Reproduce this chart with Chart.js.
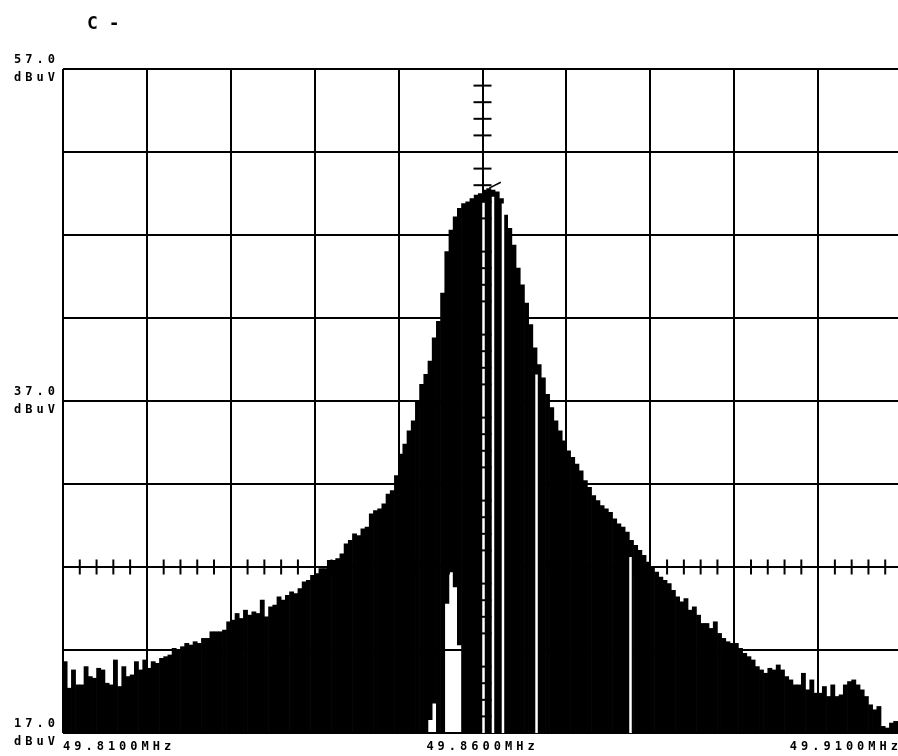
<!DOCTYPE html>
<html>
<head>
<meta charset="utf-8">
<script src="https://cdn.jsdelivr.net/npm/chart.js@4.4.1/dist/chart.umd.min.js"></script>
<style>
html,body{margin:0;padding:0;background:#fff;overflow:hidden;width:898px;height:756px}
canvas{display:block}
</style>
</head>
<body>
<canvas id="c" width="902" height="756"></canvas>
<script>
// ---------- data ----------
const titleText = 'C -';
const xMin = 49.81, xMax = 49.91;          // MHz
const yMin = 17, yMax = 57;                // dBuV
const xTickLabels = [49.81, 49.86, 49.91];
const yTickLabels = [57, 37, 17];
const yUnit = 'dBuV';
const xUnit = 'MHz';

// sweep bins: first bin centre and bin width (MHz)
const freqStart = 49.81025;
const freqStep = 0.0005;

// upper edge of the trace in each bin (dBuV)
const traceHigh = [
  21.3, 19.7, 20.8, 19.9, 19.9, 21.0, 20.4, 20.3, 20.9, 20.8,
  20.0, 19.9, 21.4, 19.8, 21.0, 20.4, 20.5, 21.3, 20.8, 21.4,
  20.9, 21.3, 21.2, 21.5, 21.6, 21.7, 22.1, 22.0, 22.2, 22.4,
  22.3, 22.5, 22.4, 22.7, 22.7, 23.1, 23.1, 23.1, 23.2, 23.7,
  23.8, 24.2, 23.9, 24.4, 24.1, 24.3, 24.2, 25.0, 24.0, 24.6,
  24.7, 25.2, 25.0, 25.3, 25.5, 25.4, 25.7, 26.1, 26.2, 26.5,
  26.6, 26.9, 26.9, 27.4, 27.4, 27.5, 27.8, 28.4, 28.6, 29.0,
  28.9, 29.3, 29.4, 30.2, 30.4, 30.5, 30.8, 31.4, 31.6, 32.5,
  33.8, 34.4, 35.2, 35.8, 37.0, 38.0, 38.6, 39.4, 40.8, 41.8,
  43.5, 46.0, 47.3, 48.1, 48.6, 48.9, 49.0, 49.2, 49.4, 49.5,
  49.7, 49.8, 49.7, 49.6, 49.2, 48.2, 47.4, 46.4, 45.0, 44.0,
  42.9, 41.6, 40.2, 39.2, 38.4, 37.4, 36.6, 35.8, 35.2, 34.6,
  34.0, 33.6, 33.2, 32.8, 32.2, 31.8, 31.3, 31.0, 30.7, 30.5,
  30.3, 29.9, 29.6, 29.4, 29.1, 28.6, 28.3, 28.0, 27.7, 27.3,
  27.0, 26.7, 26.4, 26.2, 26.0, 25.6, 25.2, 24.9, 25.1, 24.4,
  24.6, 24.1, 23.6, 23.6, 23.3, 23.7, 23.0, 22.7, 22.5, 22.4,
  22.4, 22.1, 21.8, 21.6, 21.4, 21.0, 20.8, 20.6, 20.9, 20.8,
  21.1, 20.8, 20.4, 20.2, 19.9, 19.9, 20.6, 19.6, 20.2, 19.4,
  19.4, 19.8, 19.2, 19.9, 19.2, 19.3, 19.9, 20.1, 20.2, 19.9,
  19.6, 19.2, 18.7, 18.4, 18.6, 17.4, 17.3, 17.6, 17.7, 17.6
];

// lower edge of the trace in each bin (dBuV)
const traceLow = [
  17, 17, 17, 17, 17, 17, 17, 17, 17, 17,
  17, 17, 17, 17, 17, 17, 17, 17, 17, 17,
  17, 17, 17, 17, 17, 17, 17, 17, 17, 17,
  17, 17, 17, 17, 17, 17, 17, 17, 17, 17,
  17, 17, 17, 17, 17, 17, 17, 17, 17, 17,
  17, 17, 17, 17, 17, 17, 17, 17, 17, 17,
  17, 17, 17, 17, 17, 17, 17, 17, 17, 17,
  17, 17, 17, 17, 17, 17, 17, 17, 17, 17,
  17, 17, 17, 17, 17, 17, 17, 17.8, 18.8, 17,
  17, 24.8, 26.7, 25.8, 22.3, 17, 17, 17, 17, 17,
  17, 17, 17, 17, 17, 17, 17, 17, 17, 17,
  17, 17, 17, 17, 17, 17, 17, 17, 17, 17,
  17, 17, 17, 17, 17, 17, 17, 17, 17, 17,
  17, 17, 17, 17, 17, 17, 17, 17, 17, 17,
  17, 17, 17, 17, 17, 17, 17, 17, 17, 17,
  17, 17, 17, 17, 17, 17, 17, 17, 17, 17,
  17, 17, 17, 17, 17, 17, 17, 17, 17, 17,
  17, 17, 17, 17, 17, 17, 17, 17, 17, 17,
  17, 17, 17, 17, 17, 17, 17, 17, 17, 17,
  17, 17, 17, 17, 17, 17, 17, 17, 17, 17
];

// narrow blank columns inside the trace (frequency, top of blank in dBuV)
const gapFreqs = [49.86012, 49.86125, 49.86244, 49.86644, 49.87764];
const gapTops  = [49.0, 49.3, 48.9, 38.6, 27.6];

// peak marker
const markerFreqs  = [49.86149];
const markerLevels = [50.0];

// graticule reference line and centre line
const refLevel = 27;
const centerFreq = 49.86;
const minorFreqStep = 0.002;
const minorLevelStep = 1;

// ---------- chart ----------
const monoFont = '"DejaVu Sans Mono", "Liberation Mono", monospace';

const plotterPlugin = {
  id: 'plotter',
  beforeDraw(chart) {
    chart.ctx.letterSpacing = '4px';
  },
  afterDatasetsDraw(chart) {
    const ctx = chart.ctx;
    const xs = chart.scales.x, ys = chart.scales.y;
    ctx.save();
    ctx.strokeStyle = '#000';
    ctx.lineCap = 'butt';
    // minor ticks on reference level line
    const yRef = ys.getPixelForValue(refLevel);
    ctx.lineWidth = 2;
    const nH = Math.round((xMax - xMin) / minorFreqStep);
    for (let i = 1; i < nH; i++) {
      if (i % 5 === 0) continue;
      const px = xs.getPixelForValue(xMin + i * minorFreqStep);
      ctx.beginPath();
      ctx.moveTo(px, yRef - 7.5);
      ctx.lineTo(px, yRef + 7.5);
      ctx.stroke();
    }
    // minor ticks on centre frequency line
    const xc = xs.getPixelForValue(centerFreq);
    ctx.lineWidth = 2;
    const nV = Math.round((yMax - yMin) / minorLevelStep);
    for (let j = 1; j < nV; j++) {
      if (j % 5 === 0) continue;
      const py = ys.getPixelForValue(yMin + j * minorLevelStep);
      ctx.beginPath();
      ctx.moveTo(xc - 9, py);
      ctx.lineTo(xc + 9, py);
      ctx.stroke();
    }
    ctx.restore();
  },
  afterDraw(chart) {
    const ctx = chart.ctx;
    ctx.save();
    ctx.letterSpacing = '0px';
    ctx.fillStyle = '#000';
    ctx.font = 'bold 18px ' + monoFont;
    ctx.textBaseline = 'alphabetic';
    ctx.textAlign = 'left';
    ctx.fillText(titleText, chart.chartArea.left + 24, 29);
    ctx.restore();
  }
};

const near = (a, b) => Math.abs(a - b) < 1e-6;

new Chart(document.getElementById('c'), {
  type: 'bar',
  data: {
    datasets: [
      {
        label: 'marker',
        type: 'scatter',
        data: markerFreqs.map((f, i) => ({ x: f, y: markerLevels[i] })),
        pointStyle: 'line',
        rotation: -27,
        radius: 6.5,
        borderColor: '#000',
        borderWidth: 1.5,
        order: 0
      },
      {
        label: 'gaps',
        data: gapFreqs.map((f, i) => ({ x: f, y: [yMin, gapTops[i]] })),
        xAxisID: 'xg',
        backgroundColor: '#fff',
        borderWidth: 0,
        barThickness: 2.5,
        inflateAmount: 0,
        grouped: false,
        order: 1
      },
      {
        label: 'trace',
        data: traceHigh.map((h, i) => ({ x: freqStart + i * freqStep, y: [traceLow[i], h] })),
        backgroundColor: '#000',
        borderWidth: 0,
        categoryPercentage: 1,
        barPercentage: 1,
        grouped: false,
        order: 2
      }
    ]
  },
  options: {
    responsive: false,
    animation: false,
    events: [],
    layout: { autoPadding: false, padding: { top: 69, right: 0, bottom: 0, left: 0 } },
    plugins: { legend: { display: false }, tooltip: { enabled: false }, title: { display: false } },
    scales: {
      x: {
        type: 'linear', min: xMin, max: xMax, offset: false, z: 1,
        grid: {
          offset: false, drawTicks: false, lineWidth: 2,
          color: c => (c.tick && near(c.tick.value, xMax)) ? 'rgba(0,0,0,0)' : '#000'
        },
        border: { display: false },
        ticks: {
          stepSize: 0.01, autoSkip: false, maxRotation: 0, minRotation: 0,
          align: 'inner', padding: 0, color: '#000',
          font: { family: monoFont, size: 12, weight: 'bold', lineHeight: 2.33 },
          callback: v => xTickLabels.some(t => near(t, v)) ? v.toFixed(4) + xUnit : ''
        },
        afterFit: s => { s.height = 23; }
      },
      xg: { type: 'linear', min: xMin, max: xMax, offset: false, display: false, grid: { offset: false } },
      y: {
        type: 'linear', min: yMin, max: yMax, z: 1,
        grid: { drawTicks: false, lineWidth: 2, color: '#000' },
        border: { display: false },
        ticks: {
          stepSize: 5, padding: 4, color: '#000',
          font: { family: monoFont, size: 12, weight: 'bold', lineHeight: 1.5 },
          callback: v => yTickLabels.some(t => near(t, v)) ? [v.toFixed(1), yUnit] : ''
        },
        afterFit: s => { s.width = 63; }
      }
    }
  },
  plugins: [plotterPlugin]
});
</script>
</body>
</html>
